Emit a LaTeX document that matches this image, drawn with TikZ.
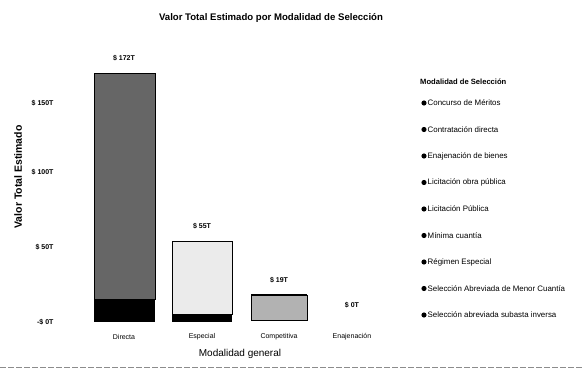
\documentclass[tikz,border=0pt]{standalone}
\usepackage{fontspec}
\setmainfont{Liberation Sans}
\usetikzlibrary{positioning}

\tikzset{
  ttl/.style={font=\bfseries\fontsize{9.6}{10}\selectfont},
  tick/.style={font=\bfseries\fontsize{7}{8}\selectfont, anchor=east},
  val/.style={font=\bfseries\fontsize{7}{8}\selectfont},
  cat/.style={font=\fontsize{7}{8}\selectfont},
  leg/.style={font=\fontsize{7.9}{9}\selectfont, anchor=west, inner sep=0pt},
  bar/.style={draw=black, line width=0.8pt},
}

\begin{document}
\begin{tikzpicture}[x=1pt,y=-1pt]
  \useasboundingbox (0,0) rectangle (582,369);

  % titles
  \node[ttl] (title) at (271,18) {Valor Total Estimado por Modalidad de Selección};
  \node[ttl, font=\bfseries\fontsize{10.5}{11}\selectfont, rotate=90] (ytitle) at (18,177) {Valor Total Estimado};
  \node[font=\fontsize{10}{11}\selectfont] (xtitle) at (240,354) {Modalidad general};

  % value axis
  \node[tick] (t150) at (57,103) {\$ 150T};
  \node[tick] (t100) at (57,172) {\$ 100T};
  \node[tick] (t50)  at (57,247) {\$ 50T};
  \node[tick] (t0)   at (57,322) {-\$ 0T};

  % bars
  \filldraw[bar, fill=black!60] (94,73) rectangle (155,299);
  \fill (94,299) rectangle (155,322);
  \filldraw[bar, fill=black!8] (172,241) rectangle (232,314);
  \fill (172,314) rectangle (232,322);
  \filldraw[bar, fill=black!30] (251,295) rectangle (307,320);
  \draw[line width=1.5pt] (251,295) -- (307,295);

  % bar values
  \node[val] (vdir) at (124,58)  {\$ 172T};
  \node[val] (vesp) at (202,226) {\$ 55T};
  \node[val] (vcom) at (279,280) {\$ 19T};
  \node[val] (vena) at (352,305) {\$ 0T};

  % categories
  \node[cat] (cdir) at (124,337) {Directa};
  \node[cat] (cesp) at (202,337) {Especial};
  \node[cat] (ccom) at (279,337) {Competitiva};
  \node[cat] (cena) at (352,337) {Enajenación};

  % legend
  \node[leg, font=\bfseries\fontsize{7.6}{8}\selectfont] (legtitle) at (420,82) {Modalidad de Selección};
  \foreach \txt [count=\i] in {Concurso de Méritos, Contratación directa, Enajenación de bienes,
      Licitación obra pública, Licitación Pública, Mínima cuantía, Régimen Especial,
      Selección Abreviada de Menor Cuantía, Selección abreviada subasta inversa} {
    \fill (424,{103+(\i-1)*26.5}) circle (2.6);
    \node[leg] (leg\i) at (427.5,{103+(\i-1)*26.5}) {\txt};
  }

  % bottom edge
  \draw[black!45, dash pattern=on 6pt off 2pt, line width=0.6pt] (0,367) -- (582,367);
\end{tikzpicture}
\end{document}
